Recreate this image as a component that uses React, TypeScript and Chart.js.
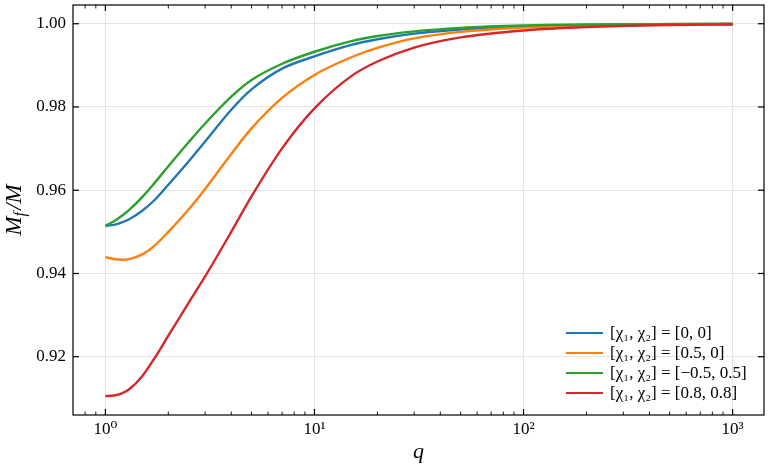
import React, { useEffect, useRef } from 'react';
import { Chart, registerables } from 'chart.js';

Chart.register(...registerables);

// mass ratio q sampled along the curves
const qValues = [1, 1.1, 1.2, 1.3, 1.5, 1.7, 2, 2.5, 3, 4, 5, 7, 10, 15, 20, 30, 50, 100, 200, 500, 1000];

// final mass fraction M_f / M for each spin configuration
const spin00 = [0.95148, 0.95169, 0.95227, 0.95304, 0.95508, 0.95741, 0.96133, 0.96692, 0.9717, 0.97934, 0.98422, 0.98921, 0.99215, 0.99491, 0.99628, 0.99762, 0.99863, 0.99935, 0.99969, 0.99988, 0.99995];
const spin05_0 = [0.94393, 0.94348, 0.94331, 0.94345, 0.94458, 0.94646, 0.94999, 0.95539, 0.96032, 0.96872, 0.97485, 0.98218, 0.9877, 0.99195, 0.99419, 0.99647, 0.99803, 0.99908, 0.99957, 0.99984, 0.99993];
const spinM05_05 = [0.95148, 0.95256, 0.95386, 0.95527, 0.95835, 0.96147, 0.96575, 0.97151, 0.97603, 0.98249, 0.98648, 0.99039, 0.99327, 0.99582, 0.99705, 0.99817, 0.999, 0.99957, 0.99981, 0.99993, 0.99998];
const spin08_08 = [0.91055, 0.91069, 0.91122, 0.91218, 0.91533, 0.91927, 0.92505, 0.93296, 0.9393, 0.94999, 0.95852, 0.97005, 0.97965, 0.98741, 0.99092, 0.99426, 0.99671, 0.99839, 0.99921, 0.99969, 0.99983];

const seriesLabels = [
  '[χ₁, χ₂] = [0, 0]',
  '[χ₁, χ₂] = [0.5, 0]',
  '[χ₁, χ₂] = [−0.5, 0.5]',
  '[χ₁, χ₂] = [0.8, 0.8]',
];
const seriesValues = [spin00, spin05_0, spinM05_05, spin08_08];
const seriesColors = ['#1f77b4', '#ff7f0e', '#2ca02c', '#d62728'];

const xTicks = [1, 10, 100, 1000];
const xTickLabels = ['10⁰', '10¹', '10²', '10³'];
const yTicks = [0.92, 0.94, 0.96, 0.98, 1.0];
const yTickLabels = ['0.92', '0.94', '0.96', '0.98', '1.00'];

const xMin = 0.708;
const xMax = 1413;
const yMin = 0.906;
const yMax = 1.0045;

const FONT = "'Liberation Serif', 'DejaVu Serif', serif";

// minor log ticks (2..9 per decade) inside the axis range
const xMinorTicks: number[] = [];
[0.1, 1, 10, 100, 1000].forEach(d => {
  for (let m = 2; m <= 9; m++) {
    const v = d * m;
    if (v > xMin && v < xMax) xMinorTicks.push(v);
  }
});

const frameAndTicks = {
  id: 'frameAndTicks',
  afterDraw(chart: any) {
    const { ctx, chartArea: a, scales } = chart;
    const sx = scales.x;
    const sy = scales.y;
    ctx.save();
    ctx.strokeStyle = '#000';
    ctx.lineWidth = 1.2;
    ctx.strokeRect(a.left, a.top, a.right - a.left, a.bottom - a.top);

    const seg = (x1: number, y1: number, x2: number, y2: number) => {
      ctx.beginPath();
      ctx.moveTo(x1, y1);
      ctx.lineTo(x2, y2);
      ctx.stroke();
    };
    xTicks.forEach(v => {
      const px = sx.getPixelForValue(v);
      seg(px, a.bottom, px, a.bottom - 6);
      seg(px, a.top, px, a.top + 6);
    });
    ctx.lineWidth = 0.9;
    xMinorTicks.forEach(v => {
      const px = sx.getPixelForValue(v);
      seg(px, a.bottom, px, a.bottom - 3.5);
      seg(px, a.top, px, a.top + 3.5);
    });
    ctx.lineWidth = 1.2;
    yTicks.forEach(v => {
      const py = sy.getPixelForValue(v);
      seg(a.left, py, a.left + 6, py);
      seg(a.right, py, a.right - 6, py);
    });

    // y axis title M_f / M
    ctx.translate(21, (a.top + a.bottom) / 2);
    ctx.rotate(-Math.PI / 2);
    ctx.fillStyle = '#000';
    ctx.textBaseline = 'alphabetic';
    const big = `italic 23px ${FONT}`;
    const small = `italic 16px ${FONT}`;
    ctx.font = big;
    const wM = ctx.measureText('M').width;
    const wRest = ctx.measureText('/M').width;
    ctx.font = small;
    const wf = ctx.measureText('f').width + 2;
    let cx = -(wM + wf + wRest) / 2;
    ctx.font = big;
    ctx.fillText('M', cx, 0);
    cx += wM;
    ctx.font = small;
    ctx.fillText('f', cx, 4);
    cx += wf;
    ctx.font = big;
    ctx.fillText('/M', cx, 0);
    ctx.restore();
  },
};

export default function App() {
  const canvasRef = useRef<HTMLCanvasElement>(null);

  useEffect(() => {
    if (!canvasRef.current) return;
    Chart.defaults.font.family = FONT;
    const chart = new Chart(canvasRef.current, {
      type: 'line',
      data: {
        datasets: seriesValues.map((vals, i) => ({
          label: seriesLabels[i],
          data: qValues.map((q, j) => ({ x: q, y: vals[j] })),
          borderColor: seriesColors[i],
          backgroundColor: seriesColors[i],
          borderWidth: 2.4,
          pointRadius: 0,
          cubicInterpolationMode: 'monotone' as const,
          order: seriesValues.length - i,
        })),
      },
      options: {
        responsive: false,
        animation: false,
        layout: { padding: { top: 5, right: 4, left: 0, bottom: 0 } },
        plugins: { legend: { display: false }, tooltip: { enabled: false } },
        scales: {
          x: {
            type: 'logarithmic',
            min: xMin,
            max: xMax,
            afterBuildTicks: (s: any) => {
              s.ticks = xTicks.map(v => ({ value: v }));
            },
            afterFit: (s: any) => {
              s.height = 53;
              s.paddingLeft = 0;
              s.paddingRight = 0;
            },
            ticks: {
              callback: (_v: any, i: number) => xTickLabels[i],
              color: '#000',
              font: { size: 17 },
              padding: 4,
              autoSkip: false,
              maxRotation: 0,
            },
            grid: { color: '#e4e4e4', drawTicks: false },
            border: { display: false },
            title: {
              display: true,
              text: 'q',
              color: '#000',
              font: { size: 22, style: 'italic' },
              padding: { top: 0, bottom: 3 },
            },
          },
          y: {
            type: 'linear',
            min: yMin,
            max: yMax,
            afterBuildTicks: (s: any) => {
              s.ticks = yTicks.map(v => ({ value: v }));
            },
            afterFit: (s: any) => {
              s.width = 73;
              s.paddingTop = 0;
              s.paddingBottom = 0;
            },
            ticks: {
              callback: (_v: any, i: number) => yTickLabels[i],
              color: '#000',
              font: { size: 17 },
              padding: 7,
            },
            grid: { color: '#e4e4e4', drawTicks: false },
            border: { display: false },
          },
        },
      },
      plugins: [frameAndTicks],
    });
    return () => chart.destroy();
  }, []);

  return (
    <div style={{ position: 'fixed', left: 0, top: 0, width: 768, height: 468, background: '#fff' }}>
      <canvas ref={canvasRef} width={768} height={468} />
      <div style={{ position: 'absolute', left: 566, top: 323, fontFamily: FONT, fontSize: 17, color: '#000' }}>
        {seriesLabels.map((label, i) => (
          <div key={label} style={{ display: 'flex', alignItems: 'center', height: 20 }}>
            <span style={{ display: 'inline-block', width: 37, height: 2.5, background: seriesColors[i], marginRight: 7 }} />
            <span style={{ whiteSpace: 'nowrap' }}>{label}</span>
          </div>
        ))}
      </div>
    </div>
  );
}
